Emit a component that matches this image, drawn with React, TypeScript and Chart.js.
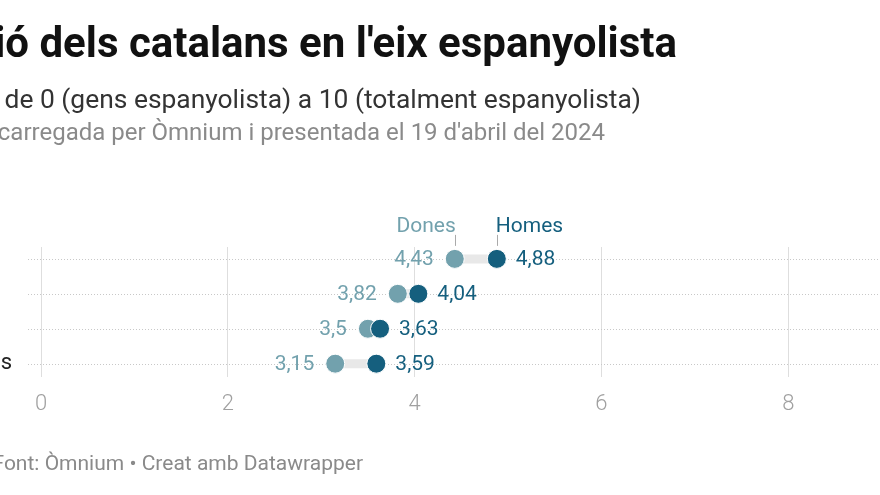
import React, { useEffect, useRef } from "react";
import { Chart, registerables } from "chart.js";

Chart.register(...registerables);

const categories = ["18-34 anys", "35-49 anys", "50-64 anys", "65 anys o més"];
const dones = [4.43, 3.82, 3.5, 3.15];
const homes = [4.88, 4.04, 3.63, 3.59];
const seriesNames = ["Dones", "Homes"];
const titleText = "Posició dels catalans en l'eix espanyolista";
const subtitleText = "Escala de 0 (gens espanyolista) a 10 (totalment espanyolista)";
const noteText = "Enquesta encarregada per Òmnium i presentada el 19 d'abril del 2024";
const footerText = "Font: Òmnium • Creat amb Datawrapper";

const DONES_COLOR = "#72a1ad";
const HOMES_COLOR = "#155f7e";
const FONT = "Roboto";

const fmt = (v: number) => String(v).replace(".", ",");

const overlay = {
  id: "overlay",
  beforeDraw(chart: any) {
    const ctx = chart.ctx;
    ctx.save();
    ctx.fillStyle = "#ffffff";
    ctx.fillRect(0, 0, chart.width, chart.height);
    ctx.textBaseline = "alphabetic";
    ctx.textAlign = "right";
    ctx.fillStyle = "#111111";
    ctx.font = `bold 42px ${FONT}`;
    ctx.fillText(titleText, 677, 57);
    ctx.fillStyle = "#333333";
    ctx.font = `26.4px ${FONT}`;
    ctx.fillText(subtitleText, 641, 108);
    ctx.fillStyle = "#8a8a8a";
    ctx.font = `24px ${FONT}`;
    ctx.fillText(noteText, 605, 140);
    ctx.font = `21px ${FONT}`;
    ctx.fillText(footerText, 363, 470);
    ctx.restore();
  },
  beforeDatasetsDraw(chart: any) {
    const ctx = chart.ctx;
    const ys = chart.scales.y;
    const area = chart.chartArea;
    ctx.save();
    ctx.strokeStyle = "#c8c8c8";
    ctx.lineWidth = 1;
    ctx.setLineDash([1, 2]);
    categories.forEach((c, i) => {
      const y = Math.round(ys.getPixelForValue(i)) + 0.5;
      ctx.beginPath();
      ctx.moveTo(area.left - 13, y);
      ctx.lineTo(chart.width, y);
      ctx.stroke();
    });
    ctx.setLineDash([]);
    ctx.fillStyle = "#222222";
    ctx.font = `22px ${FONT}`;
    ctx.textAlign = "left";
    ctx.textBaseline = "middle";
    const longest = Math.max(...categories.map((c) => ctx.measureText(c).width));
    const labelX = area.left - 29 - longest;
    categories.forEach((c, i) => {
      ctx.fillText(c, labelX, ys.getPixelForValue(i));
    });
    ctx.restore();
  },
  afterDatasetsDraw(chart: any) {
    const ctx = chart.ctx;
    const xs = chart.scales.x;
    const ys = chart.scales.y;
    ctx.save();
    ctx.font = `21px ${FONT}`;
    ctx.textBaseline = "middle";
    categories.forEach((c, i) => {
      const y = ys.getPixelForValue(i) + 1;
      ctx.fillStyle = DONES_COLOR;
      ctx.textAlign = "right";
      ctx.fillText(fmt(dones[i]), xs.getPixelForValue(dones[i]) - 21, y);
      ctx.fillStyle = HOMES_COLOR;
      ctx.textAlign = "left";
      ctx.fillText(fmt(homes[i]), xs.getPixelForValue(homes[i]) + 19, y);
    });
    const y0 = ys.getPixelForValue(0);
    const xd = xs.getPixelForValue(dones[0]);
    const xh = xs.getPixelForValue(homes[0]);
    ctx.textBaseline = "alphabetic";
    ctx.font = `21px ${FONT}`;
    ctx.fillStyle = DONES_COLOR;
    ctx.textAlign = "right";
    ctx.fillText(seriesNames[0], xd + 1, y0 - 27);
    ctx.fillStyle = HOMES_COLOR;
    ctx.textAlign = "left";
    ctx.fillText(seriesNames[1], xh - 1, y0 - 27);
    ctx.strokeStyle = "#aaaaaa";
    ctx.lineWidth = 1;
    [xd, xh].forEach((x) => {
      ctx.beginPath();
      ctx.moveTo(Math.round(x) + 0.5, y0 - 24);
      ctx.lineTo(Math.round(x) + 0.5, y0 - 13);
      ctx.stroke();
    });
    ctx.restore();
  },
};

export default function App() {
  const ref = useRef<HTMLCanvasElement>(null);
  useEffect(() => {
    document.body.style.margin = "0";
    const connectors = categories.map((c, i) => ({
      type: "line" as const,
      data: [
        { x: dones[i], y: i },
        { x: homes[i], y: i },
      ],
      borderColor: "#e8e8e8",
      borderWidth: 9,
      pointRadius: 0,
      showLine: true,
      borderCapStyle: "butt",
      order: 3,
    }));
    const chart = new Chart(ref.current!, {
      type: "scatter",
      data: {
        datasets: [
          ...connectors,
          {
            label: seriesNames[0],
            data: dones.map((v, i) => ({ x: v, y: i })),
            backgroundColor: DONES_COLOR,
            borderColor: "#ffffff",
            borderWidth: 1,
            pointRadius: 9.5,
            order: 2,
          },
          {
            label: seriesNames[1],
            data: homes.map((v, i) => ({ x: v, y: i })),
            backgroundColor: HOMES_COLOR,
            borderColor: "#ffffff",
            borderWidth: 1,
            pointRadius: 9.5,
            order: 1,
          },
        ] as any,
      },
      options: {
        animation: false,
        responsive: false,
        layout: { padding: { left: 41, right: 0, top: 247, bottom: 62 } },
        plugins: { legend: { display: false }, tooltip: { enabled: false } },
        scales: {
          x: {
            type: "linear",
            min: 0,
            max: 8.87,
            border: { display: false },
            grid: { color: "#dedede", lineWidth: 1, drawTicks: false },
            ticks: {
              stepSize: 2,
              includeBounds: false,
              color: "#a0a0a0",
              font: { family: FONT, size: 22, weight: 300 },
              padding: 15,
            },
          },
          y: {
            type: "linear",
            reverse: true,
            min: -0.34,
            max: 3.37,
            display: false,
          },
        },
      },
      plugins: [overlay],
    });
    return () => chart.destroy();
  }, []);
  return (
    <div style={{ position: "absolute", left: 0, top: 0, width: 880, height: 495, overflow: "hidden" }}>
      <canvas ref={ref} width={880} height={495} style={{ display: "block" }} />
    </div>
  );
}
